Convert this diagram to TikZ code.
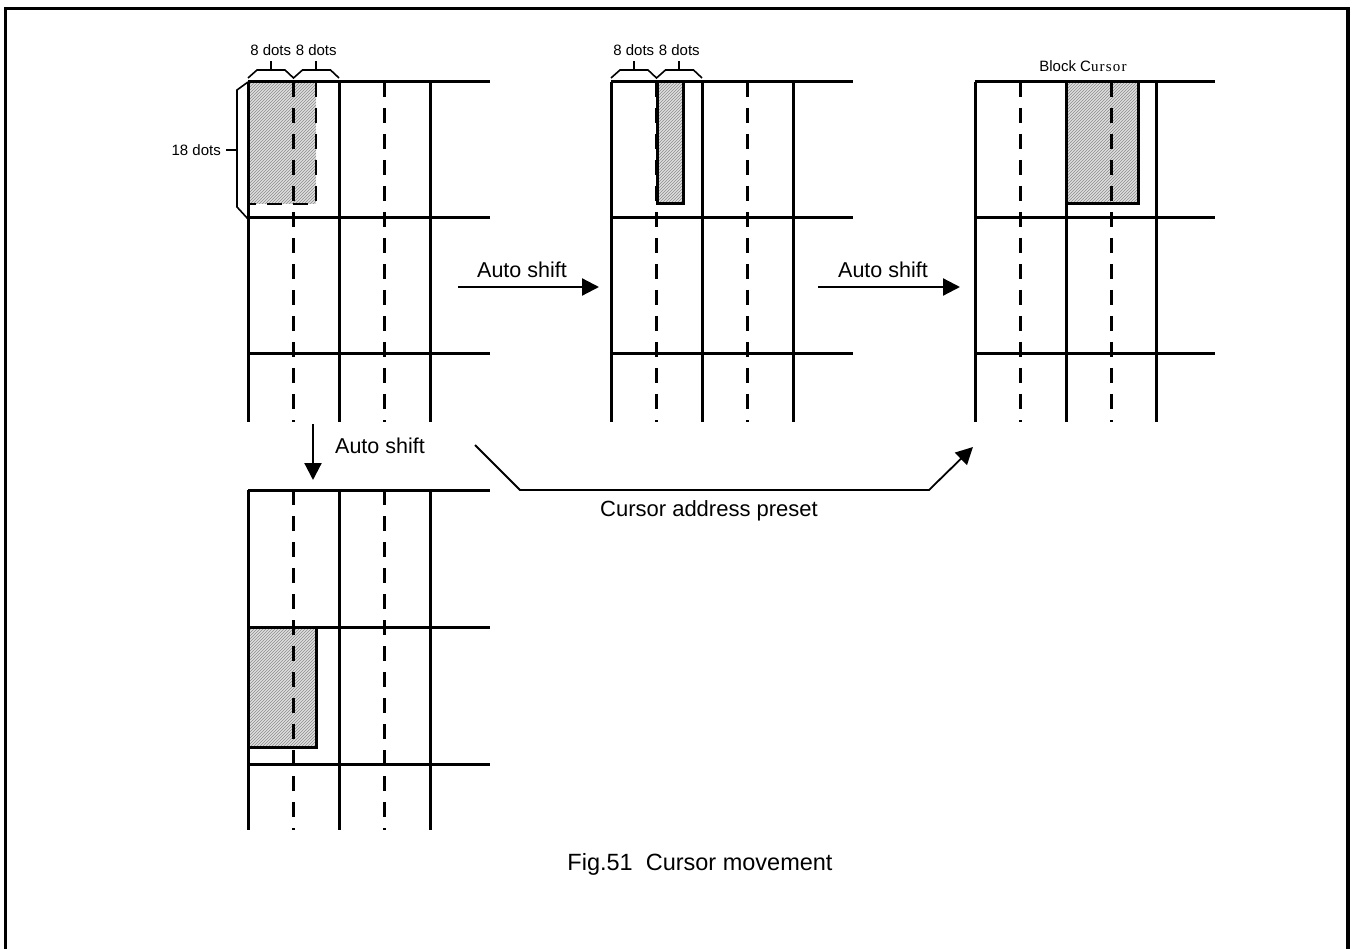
\documentclass[tikz,border=0pt]{standalone}
\usepackage{fontspec}
\setmainfont{Liberation Sans}
\newfontfamily\serifpart{Liberation Serif}
\usetikzlibrary{arrows.meta, patterns, positioning}

\tikzset{
  gridline/.style={line width=3pt},
  gridmid/.style={line width=2.2pt, dash pattern=on 15pt off 11pt},
  cursorfill/.style={fill=gray!25, postaction={pattern=north east lines, pattern color=gray!90}},
  bracket/.style={line width=1.6pt},
  bigtxt/.style={font=\fontsize{21.5}{25}\selectfont, inner sep=0pt},
  smalltxt/.style={font=\fontsize{15}{18}\selectfont, inner sep=0pt},
  shiftarrow/.style={-{Triangle[length=17pt,width=17pt]}, line width=2.2pt},
}

\begin{document}
\begin{tikzpicture}[x=1pt, y=-1pt]
  \useasboundingbox (0,0) rectangle (1352,949);
  \draw[line width=3.5pt] (5.5,8.5) rectangle (1348,960);

  % grid 1: cursor at start, with the dot brackets
  \begin{scope}[shift={(248,82)}]
    \fill[cursorfill] (0,0) rectangle (68,122);
    \draw[gridmid] (68,0) -- (68,122) -- (-1,122);
    \draw[gridline] (0,0) -- (242,0) (0,136) -- (242,136) (0,272) -- (242,272)
      (0,0) -- (0,340) (91,0) -- (91,340) (182,0) -- (182,340);
    \draw[gridmid] (45.5,0) -- (45.5,340) (136.5,0) -- (136.5,340);
    \draw[bracket] (0,-4) -- (9,-12) -- (37,-12) -- (45.5,-4) -- (54.5,-12) -- (82.5,-12) -- (91,-4);
    \draw[bracket] (22.75,-12) -- (22.75,-21) (68.25,-12) -- (68.25,-21);
    \node[smalltxt] (dotsa) at (22.75,-32) {8 dots};
    \node[smalltxt] (dotsb) at (68.25,-32) {8 dots};
    \draw[bracket] (0,0) -- (-11,8) -- (-11,125) -- (0,137) (-11,68) -- (-22,68);
    \node[smalltxt, anchor=east] (dotsh) at (-27,68) {18 dots};
  \end{scope}

  % grid 2: cursor shifted by 8 dots
  \begin{scope}[shift={(611,82)}]
    \fill[cursorfill] (46,0) rectangle (72,122);
    \draw[gridline] (46,0) -- (46,122) -- (72,122) -- (72,0);
    \draw[gridline] (0,0) -- (242,0) (0,136) -- (242,136) (0,272) -- (242,272)
      (0,0) -- (0,340) (91,0) -- (91,340) (182,0) -- (182,340);
    \draw[gridmid] (45.5,0) -- (45.5,340) (136.5,0) -- (136.5,340);
    \draw[bracket] (0,-4) -- (9,-12) -- (37,-12) -- (45.5,-4) -- (54.5,-12) -- (82.5,-12) -- (91,-4);
    \draw[bracket] (22.75,-12) -- (22.75,-21) (68.25,-12) -- (68.25,-21);
    \node[smalltxt] (dotsc) at (22.75,-32) {8 dots};
    \node[smalltxt] (dotsd) at (68.25,-32) {8 dots};
  \end{scope}

  % grid 3: block cursor
  \begin{scope}[shift={(975,82)}]
    \fill[cursorfill] (91,0) rectangle (163,122);
    \draw[gridline] (91,0) -- (91,122) -- (163,122) -- (163,0);
    \draw[gridline] (0,0) -- (240,0) (0,136) -- (240,136) (0,272) -- (240,272)
      (0,0) -- (0,340) (91,0) -- (91,340) (181,0) -- (181,340);
    \draw[gridmid] (45.5,0) -- (45.5,340) (136.5,0) -- (136.5,340);
    \node[smalltxt] (blockcur) at (108,-16) {Block C{\serifpart\addfontfeature{LetterSpace=8}ursor}};
  \end{scope}

  % grid 4: cursor shifted one row down
  \begin{scope}[shift={(248,490)}]
    \fill[cursorfill] (0,137) rectangle (68,257);
    \draw[gridline] (0,137) -- (68,137) -- (68,257) -- (0,257);
    \draw[gridline] (0,0) -- (242,0) (0,137) -- (242,137) (0,274) -- (242,274)
      (0,0) -- (0,340) (91,0) -- (91,340) (182,0) -- (182,340);
    \draw[gridmid] (45.5,0) -- (45.5,340) (136.5,0) -- (136.5,340);
  \end{scope}

  % arrows
  \coordinate (sha) at (458,287);
  \coordinate (shb) at (599,287);
  \coordinate (shc) at (818,287);
  \coordinate (shd) at (960,287);
  \coordinate (dna) at (313,424);
  \coordinate (dnb) at (313,480);
  \draw[shiftarrow] (sha) -- (shb);
  \draw[shiftarrow] (shc) -- (shd);
  \draw[shiftarrow] (dna) -- (dnb);
  \node[bigtxt] (shifta) at (522,270) {Auto shift};
  \node[bigtxt] (shiftb) at (883,270) {Auto shift};
  \node[bigtxt, anchor=west] (shiftc) at (335,446) {Auto shift};

  \coordinate (prea) at (475,445);
  \coordinate (preb) at (520,490);
  \coordinate (prec) at (929,490);
  \coordinate (pred) at (973,447);
  \draw[shiftarrow, line width=1.8pt] (prea) -- (preb) -- (prec) -- (pred);
  \node[bigtxt, anchor=base, font=\fontsize{22}{26}\selectfont] (preset) at (709,516) {Cursor address preset};

  \node[bigtxt, anchor=base, font=\fontsize{23.5}{28}\selectfont] (caption) at (700,870) {Fig.51~~Cursor movement};
\end{tikzpicture}
\end{document}
